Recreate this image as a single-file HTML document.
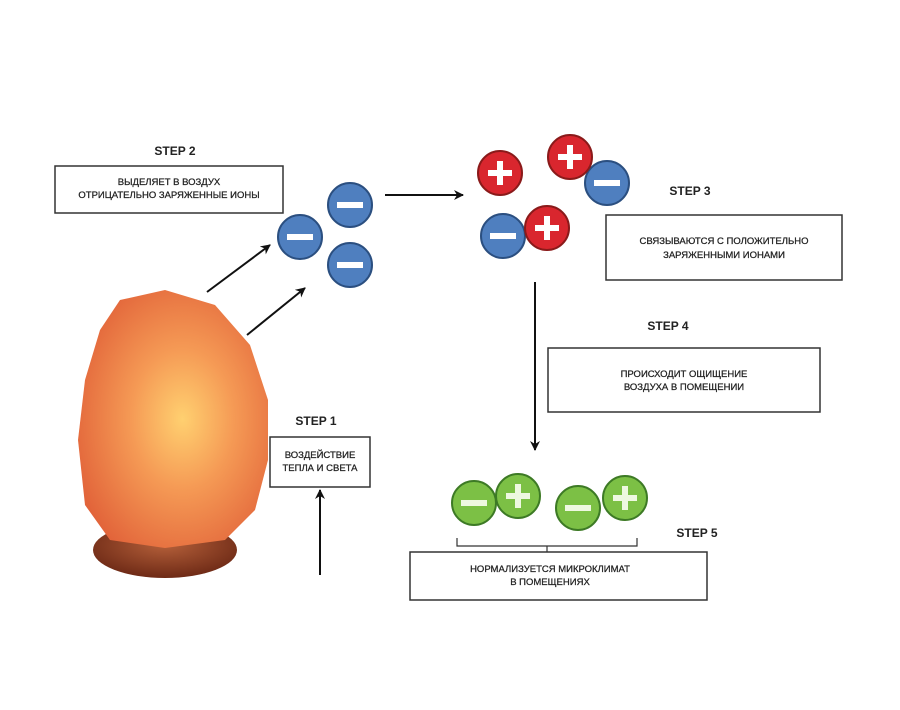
<!DOCTYPE html>
<html><head><meta charset="utf-8"><style>
body{margin:0;background:#fff;}
svg{display:block}
text{font-family:"Liberation Sans","Noto Sans CJK SC",sans-serif;}
</style></head><body>
<svg width="900" height="710" viewBox="0 0 900 710" xmlns="http://www.w3.org/2000/svg">
<defs>
<marker id="a" markerWidth="12" markerHeight="12" refX="9" refY="5" orient="auto" markerUnits="userSpaceOnUse"><path d="M0,0 L10,5 L0,10 L3,5 Z" fill="#111"/></marker>
<radialGradient id="lamp" cx="0.55" cy="0.5" r="0.6"><stop offset="0" stop-color="#ffd070"/><stop offset="0.45" stop-color="#f59a55"/><stop offset="1" stop-color="#e2643a"/></radialGradient>
<radialGradient id="base" cx="0.5" cy="0.4" r="0.6"><stop offset="0" stop-color="#b5603a"/><stop offset="1" stop-color="#6e2a16"/></radialGradient>
</defs>
<ellipse cx="165" cy="550" rx="72" ry="28" fill="url(#base)"/>
<path d="M120,300 L165,290 L215,305 L250,345 L268,400 L268,460 L255,510 L225,540 L165,548 L110,540 L85,505 L78,440 L85,380 L100,330 Z" fill="url(#lamp)"/>
<g fill="#fff" stroke="#333" stroke-width="1.5">
<rect x="55" y="166" width="228" height="47"/>
<rect x="606" y="215" width="236" height="65"/>
<rect x="548" y="348" width="272" height="64"/>
<rect x="270" y="437" width="100" height="50"/>
<rect x="410" y="552" width="297" height="48"/>
</g>
<g font-size="12" font-weight="bold" fill="#222" text-anchor="middle">
<text x="175" y="155">STEP 2</text>
<text x="690" y="195">STEP 3</text>
<text x="668" y="330">STEP 4</text>
<text x="316" y="425">STEP 1</text>
<text x="697" y="537">STEP 5</text>
</g>
<g font-size="9.5" fill="#222" text-anchor="middle" stroke="#222" stroke-width="0.25">
<text x="169" y="185">ВЫДЕЛЯЕТ В ВОЗДУХ</text>
<text x="169" y="198">ОТРИЦАТЕЛЬНО ЗАРЯЖЕННЫЕ ИОНЫ</text>
<text x="724" y="244">СВЯЗЫВАЮТСЯ С ПОЛОЖИТЕЛЬНО</text>
<text x="724" y="258">ЗАРЯЖЕННЫМИ ИОНАМИ</text>
<text x="684" y="377">ПРОИСХОДИТ ОЩИЩЕНИЕ</text>
<text x="684" y="390">ВОЗДУХА В ПОМЕЩЕНИИ</text>
<text x="320" y="458">ВОЗДЕЙСТВИЕ</text>
<text x="320" y="471">ТЕПЛА И СВЕТА</text>
<text x="550" y="572">НОРМАЛИЗУЕТСЯ МИКРОКЛИМАТ</text>
<text x="550" y="585">В ПОМЕЩЕНИЯХ</text>
</g>
<g stroke="#111" stroke-width="2" marker-end="url(#a)">
<line x1="207" y1="292" x2="270" y2="245"/>
<line x1="247" y1="335" x2="305" y2="288"/>
<line x1="385" y1="195" x2="463" y2="195"/>
<line x1="535" y1="282" x2="535" y2="450"/>
<line x1="320" y1="575" x2="320" y2="490"/>
</g>
<path d="M457,538 V546 H637 V538 M547,546 V552" fill="none" stroke="#333" stroke-width="1.2"/>
<g stroke="#2b4f80" stroke-width="2" fill="#4f7fbf">
<circle cx="300" cy="237" r="22"/><circle cx="350" cy="205" r="22"/><circle cx="350" cy="265" r="22"/>
<circle cx="607" cy="183" r="22"/><circle cx="503" cy="236" r="22"/>
</g>
<g fill="#fff">
<rect x="287" y="234" width="26" height="6"/><rect x="337" y="202" width="26" height="6"/><rect x="337" y="262" width="26" height="6"/>
<rect x="594" y="180" width="26" height="6"/><rect x="490" y="233" width="26" height="6"/>
</g>
<g stroke="#8a1a1a" stroke-width="2" fill="#d9262e">
<circle cx="500" cy="173" r="22"/><circle cx="570" cy="157" r="22"/><circle cx="547" cy="228" r="22"/>
</g>
<g fill="#fff">
<rect x="488" y="170" width="24" height="6"/><rect x="497" y="161" width="6" height="24"/>
<rect x="558" y="154" width="24" height="6"/><rect x="567" y="145" width="6" height="24"/>
<rect x="535" y="225" width="24" height="6"/><rect x="544" y="216" width="6" height="24"/>
</g>
<g stroke="#3d7a25" stroke-width="2" fill="#7cc045">
<circle cx="474" cy="503" r="22"/><circle cx="518" cy="496" r="22"/><circle cx="578" cy="508" r="22"/><circle cx="625" cy="498" r="22"/>
</g>
<g fill="#eef8e0">
<rect x="461" y="500" width="26" height="6"/>
<rect x="506" y="493" width="24" height="6"/><rect x="515" y="484" width="6" height="24"/>
<rect x="565" y="505" width="26" height="6"/>
<rect x="613" y="495" width="24" height="6"/><rect x="622" y="486" width="6" height="24"/>
</g>
</svg>
</body></html>
